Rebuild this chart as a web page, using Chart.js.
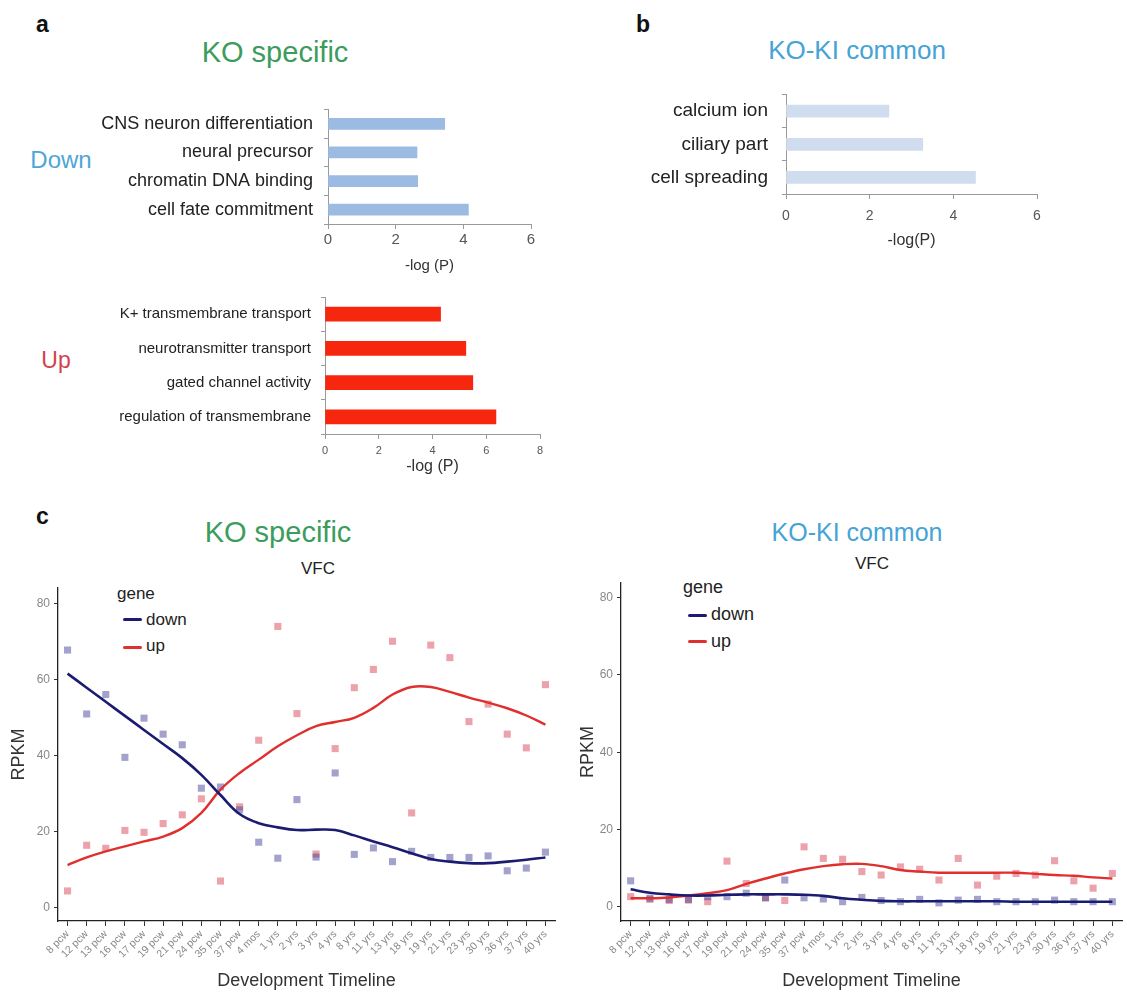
<!DOCTYPE html>
<html>
<head>
<meta charset="utf-8">
<title>KO / KO-KI gene sets</title>
<script src="https://cdn.jsdelivr.net/npm/chart.js@4"></script>
<style>
  body { margin: 0; width: 1127px; height: 998px; background: #fff; position: relative; overflow: hidden;
         font-family: "Liberation Sans", Arial, sans-serif; }
  canvas { position: absolute; }
  .t { position: absolute; white-space: nowrap; transform: translate(-50%, -50%); line-height: 1; }
  .lbl { position: absolute; white-space: nowrap; line-height: 1; }
  .key { position: absolute; height: 3px; width: 19px; border-radius: 2px; }
</style>
</head>
<body>

<!-- panel letters and headings -->
<div class="lbl" style="left:36px;top:13px;font-size:23px;font-weight:bold;color:#111">a</div>
<div class="lbl" style="left:636px;top:13px;font-size:23px;font-weight:bold;color:#111">b</div>
<div class="lbl" style="left:36px;top:505px;font-size:23px;font-weight:bold;color:#111">c</div>

<div class="t" style="left:275px;top:52px;font-size:29px;color:#3c9c5c">KO specific</div>
<div class="t" style="left:857px;top:50px;font-size:26px;color:#45a3d5">KO-KI common</div>
<div class="t" style="left:61px;top:160px;font-size:24px;color:#4ea6d6">Down</div>
<div class="t" style="left:56px;top:360px;font-size:23px;color:#d2414d">Up</div>

<div class="t" style="left:278px;top:532px;font-size:29px;color:#3c9c5c">KO specific</div>
<div class="t" style="left:857px;top:532px;font-size:25px;color:#45a3d5">KO-KI common</div>
<div class="t" style="left:318px;top:568px;font-size:17px;color:#222">VFC</div>
<div class="t" style="left:872px;top:563px;font-size:17px;color:#222">VFC</div>

<!-- legends for panel c -->
<div class="lbl" style="left:117px;top:585px;font-size:17px;color:#222">gene</div>
<div class="key" style="left:123px;top:618px;background:#1b1b72"></div>
<div class="lbl" style="left:146px;top:611px;font-size:17px;color:#222">down</div>
<div class="key" style="left:123px;top:646px;background:#e0302e"></div>
<div class="lbl" style="left:146px;top:637px;font-size:17px;color:#222">up</div>

<div class="lbl" style="left:683px;top:578px;font-size:18px;color:#222">gene</div>
<div class="key" style="left:688px;top:614px;background:#1b1b72"></div>
<div class="lbl" style="left:711px;top:605px;font-size:18px;color:#222">down</div>
<div class="key" style="left:688px;top:640px;background:#e0302e"></div>
<div class="lbl" style="left:711px;top:632px;font-size:18px;color:#222">up</div>

<canvas id="koDown" width="560" height="180" style="left:0;top:95px"></canvas>
<canvas id="koUp" width="560" height="191" style="left:0;top:285px"></canvas>
<canvas id="common" width="552" height="170" style="left:575px;top:80px"></canvas>
<canvas id="koTime" width="565" height="428" style="left:0;top:570px"></canvas>
<canvas id="commonTime" width="552" height="428" style="left:575px;top:570px"></canvas>

<script>
// GO terms, -log(P)
const downTerms = ['CNS neuron differentiation', 'neural precursor', 'chromatin DNA binding', 'cell fate commitment'];
const downLogP = [3.45, 2.63, 2.65, 4.15];
const upTerms = ['K+ transmembrane transport', 'neurotransmitter transport', 'gated channel activity', 'regulation of transmembrane'];
const upLogP = [4.3, 5.24, 5.5, 6.36];
const commonTerms = ['calcium ion', 'ciliary part', 'cell spreading'];
const commonLogP = [2.46, 3.27, 4.53];

// development timeline (VFC)
const timeline = ['8 pcw', '12 pcw', '13 pcw', '16 pcw', '17 pcw', '19 pcw', '21 pcw', '24 pcw', '35 pcw', '37 pcw',
  '4 mos', '1 yrs', '2 yrs', '3 yrs', '4 yrs', '8 yrs', '11 yrs', '13 yrs', '18 yrs', '19 yrs', '21 yrs', '23 yrs',
  '30 yrs', '36 yrs', '37 yrs', '40 yrs'];
const rpkmTicks = [0, 20, 40, 60, 80];

// KO specific
const koDownPts = [67.7, 50.9, 56.0, 39.5, 49.8, 45.6, 42.8, 31.4, 31.7, 25.7, 17.2, 13.0, 28.4, 13.3, 35.4, 14.0,
  15.7, 12.1, 14.8, 13.2, 13.2, 13.2, 13.6, 9.7, 10.4, 14.6];
const koUpPts = [4.4, 16.4, 15.6, 20.3, 19.8, 22.1, 24.4, 28.6, 7.0, 26.5, 44.0, 73.9, 51.0, 14.1, 41.8, 57.8,
  62.6, 70.0, 24.9, 69.0, 65.7, 48.9, 53.5, 45.6, 42.0, 58.6];
const koDownFit = [61.5, 57.8, 54.1, 50.4, 46.7, 43.0, 39.3, 34.9, 29.6, 24.6, 22.2, 21.1, 20.4, 20.5, 20.4, 19.0,
  17.4, 15.9, 14.3, 12.8, 12.1, 11.7, 11.7, 12.1, 12.6, 13.2];
const koUpFit = [11.2, 13.2, 14.8, 16.1, 17.4, 18.7, 20.9, 24.9, 31.0, 35.4, 38.9, 42.4, 45.3, 47.7, 48.8, 49.9,
  52.5, 56.0, 58.0, 58.0, 56.7, 55.2, 53.9, 52.4, 50.5, 48.1];

// KO-KI common
const commonDownPts = [6.7, 2.2, 1.9, 1.9, 2.6, 2.6, 3.5, 2.3, 6.9, 2.3, 2.0, 1.3, 2.4, 1.6, 1.3, 1.9, 1.0, 1.7,
  1.9, 1.3, 1.3, 1.3, 1.7, 1.3, 1.3, 1.3];
const commonUpPts = [2.6, 1.9, 1.6, 1.7, 1.3, 11.8, 6.0, 2.3, 1.6, 15.5, 12.5, 12.3, 9.1, 8.2, 10.3, 9.7, 6.9,
  12.5, 5.6, 7.9, 8.6, 8.2, 11.9, 6.7, 4.8, 8.6];
const commonDownFit = [4.5, 3.6, 3.2, 2.9, 2.9, 3.1, 3.2, 3.2, 3.2, 3.1, 2.8, 2.2, 1.8, 1.5, 1.4, 1.4, 1.4, 1.4,
  1.4, 1.4, 1.3, 1.3, 1.3, 1.3, 1.3, 1.3];
const commonUpFit = [2.2, 2.2, 2.4, 2.9, 3.5, 4.3, 5.9, 7.3, 8.6, 9.7, 10.5, 11.0, 11.1, 10.5, 9.5, 9.1, 8.8, 8.8,
  8.8, 8.8, 8.8, 8.5, 8.2, 8.0, 7.6, 7.3];

Chart.defaults.font.family = '"Liberation Sans", Arial, sans-serif';

// horizontal GO bar chart (excel style)
function goBar(id, terms, vals, color, o) {
  new Chart(document.getElementById(id), {
    type: 'bar',
    data: { labels: terms, datasets: [{ data: vals, backgroundColor: color, barThickness: o.bar }] },
    options: {
      indexAxis: 'y',
      responsive: false,
      animation: false,
      layout: { padding: o.pad },
      plugins: { legend: { display: false }, tooltip: { enabled: false } },
      scales: {
        x: {
          min: 0, max: o.max,
          ticks: { stepSize: 2, color: '#555', font: { size: o.tickSize }, padding: o.tickPad },
          grid: { drawOnChartArea: false, tickLength: 5, color: '#999' },
          border: { color: '#999' },
          title: { display: true, text: o.xTitle, color: '#333', font: { size: o.titleSize }, padding: { top: 0, bottom: 0 } },
          afterFit: s => { s.height = o.xh; }
        },
        y: {
          ticks: { color: '#222', font: { size: o.labelSize }, padding: o.labelPad },
          grid: { drawOnChartArea: false, tickLength: 4, color: '#999' },
          border: { color: '#999' },
          // fixed width, and no extra room for half label heights
          afterFit: s => { s.width = o.yw; s.paddingTop = 0; s.paddingBottom = 0; }
        }
      }
    }
  });
}

goBar('koDown', downTerms, downLogP, '#9bbbe2', {
  bar: 11, max: 6, pad: { top: 14.5, right: 29, bottom: 0, left: 0 }, xh: 51, tickPad: 2,
  tickSize: 15, titleSize: 15, labelSize: 18, labelPad: 11, yw: 328, xTitle: '-log (P)'
});
goBar('koUp', upTerms, upLogP, '#f7260e', {
  bar: 14, max: 8, pad: { top: 12, right: 20, bottom: 0, left: 0 }, xh: 42, tickPad: 5,
  tickSize: 11, titleSize: 16, labelSize: 15, labelPad: 10, yw: 325, xTitle: '-log (P)'
});
goBar('common', commonTerms, commonLogP, '#d0ddef', {
  bar: 12, max: 6, pad: { top: 14.6, right: 90, bottom: 0, left: 0 }, xh: 56, tickPad: 9,
  tickSize: 14, titleSize: 16, labelSize: 19, labelPad: 14, yw: 211, xTitle: '-log(P)'
});

// timeline scatter + smooth fit (ggplot style)
function timeChart(id, downPts, upPts, downFit, upFit, o) {
  const pt = (data, c) => ({
    data, showLine: false, pointStyle: 'rect', pointRadius: 5, pointBorderWidth: 0,
    backgroundColor: c, pointBackgroundColor: c, borderColor: c, order: 2
  });
  const fit = (data, c, w) => ({
    data, borderColor: c, borderWidth: w, pointRadius: 0, tension: 0.4, fill: false, order: 1
  });
  new Chart(document.getElementById(id), {
    type: 'line',
    data: {
      labels: timeline,
      datasets: [
        fit(downFit, '#1b1b72', 2.6),
        fit(upFit, '#e0302e', 2.4),
        pt(downPts, 'rgba(60,60,150,0.48)'),
        pt(upPts, 'rgba(215,60,80,0.48)')
      ]
    },
    options: {
      responsive: false,
      animation: false,
      layout: { padding: o.pad },
      plugins: { legend: { display: false }, tooltip: { enabled: false } },
      scales: {
        x: {
          offset: true,
          ticks: { autoSkip: false, minRotation: 45, maxRotation: 45, color: '#888', font: { size: 10.5 }, padding: 2 },
          grid: { drawOnChartArea: false, tickLength: 5, color: '#333' },
          border: { color: '#222', width: 1.3 },
          title: { display: true, text: 'Development Timeline', color: '#333', font: { size: 18 }, padding: { top: 0, bottom: 4 } },
          afterFit: s => { s.height = o.xh; }
        },
        y: {
          min: o.min, max: o.max,
          afterBuildTicks: a => { a.ticks = rpkmTicks.map(v => ({ value: v })); },
          ticks: { color: '#888', font: { size: 12 }, padding: 4 },
          grid: { drawOnChartArea: false, tickLength: 4, color: '#333' },
          border: { color: '#222', width: 1.3 },
          title: { display: true, text: 'RPKM', color: '#333', font: { size: 18 }, padding: { top: o.tPad, bottom: 0 } },
          afterFit: s => { s.width = o.yw; }
        }
      }
    }
  });
}

timeChart('koTime', koDownPts, koUpPts, koDownFit, koUpFit, {
  pad: { top: 18, right: 10, bottom: 2, left: 0 }, xh: 75, yw: 58, min: -3.5, max: 84, tPad: 8
});
timeChart('commonTime', commonDownPts, commonUpPts, commonDownFit, commonUpFit, {
  pad: { top: 13, right: 2, bottom: 2, left: 0 }, xh: 75, yw: 46, min: -3.7, max: 83.8, tPad: 2
});
</script>
</body>
</html>
